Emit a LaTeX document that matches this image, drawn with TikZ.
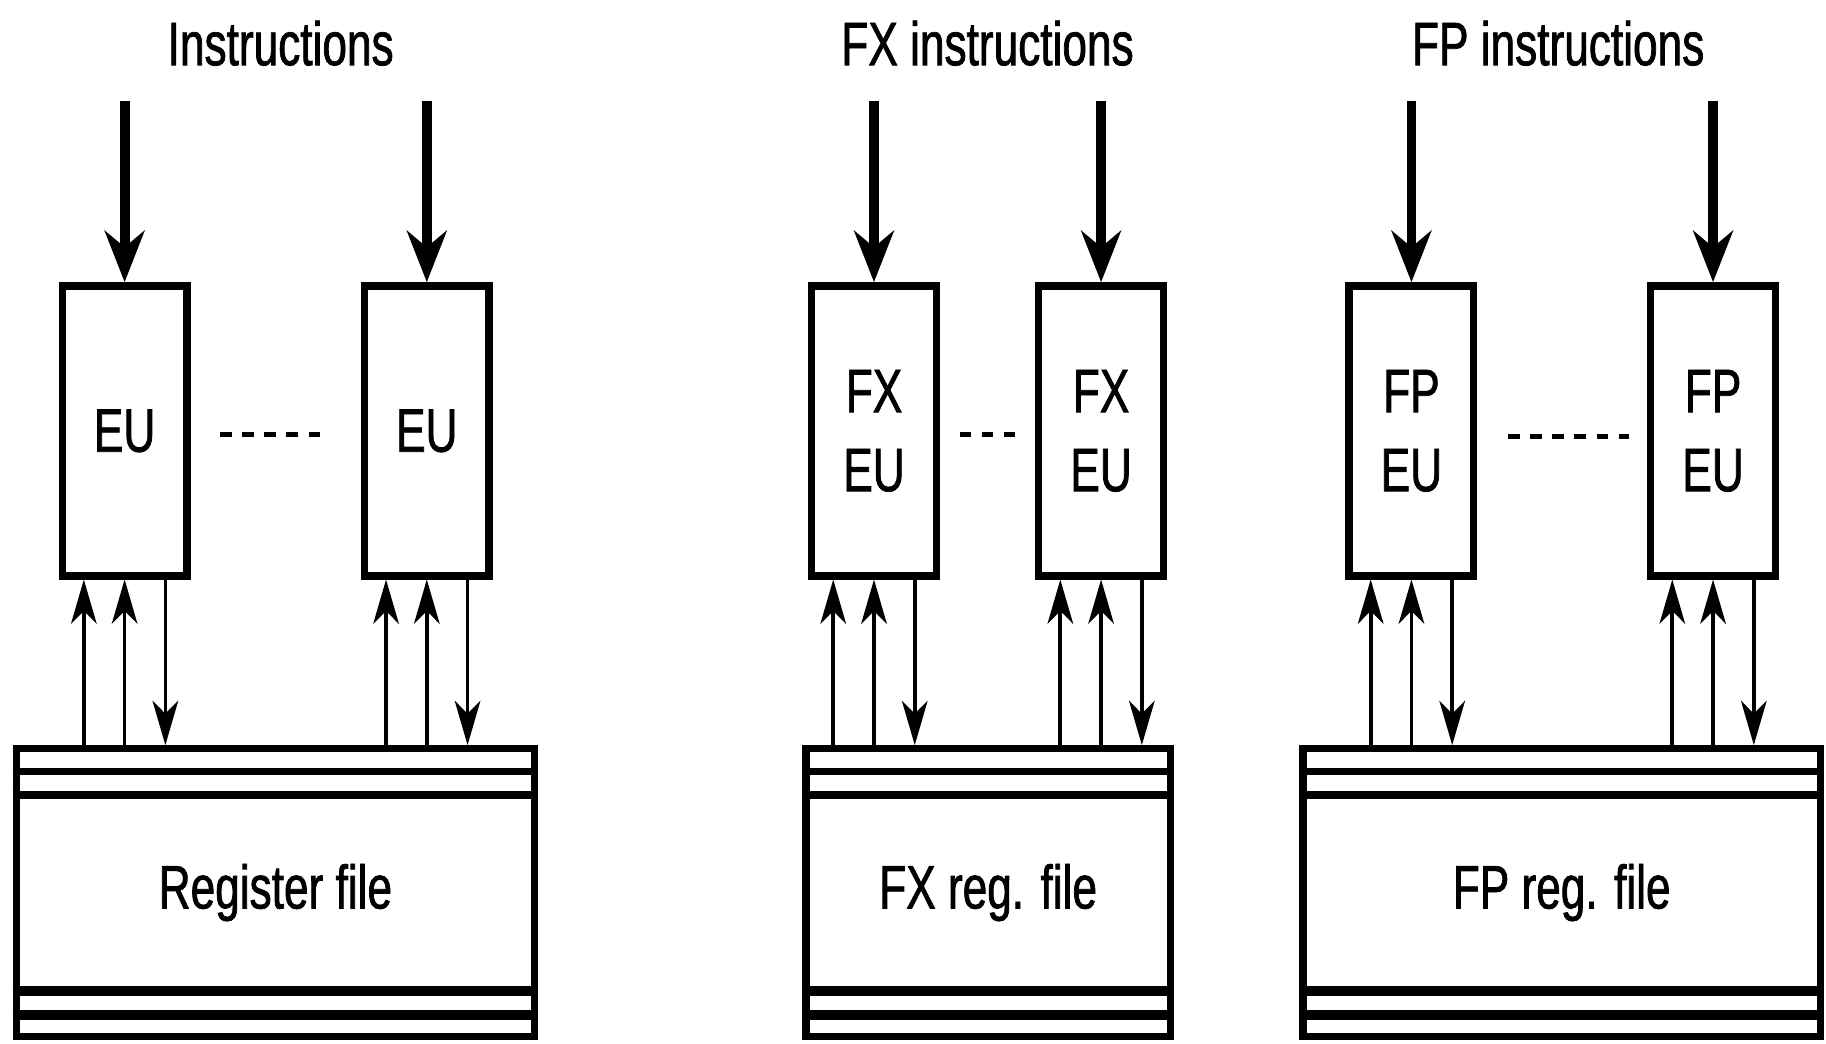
\documentclass[tikz,border=0pt]{standalone}
\usepackage{fontspec}
\setmainfont{Liberation Sans}[FakeStretch=0.72,FakeBold=1.2]
\usetikzlibrary{arrows.meta}

\begin{document}
\begin{tikzpicture}[
  eubox/.style={draw,line width=1.8pt,minimum width=1.07cm,minimum height=2.49cm,inner sep=0pt,align=center,font=\fontsize{15}{19.3}\selectfont},
  regbox/.style={draw,line width=1.8pt,minimum height=2.47cm,inner sep=0pt,font=\fontsize{15}{18}\selectfont},
  title/.style={anchor=base,font=\fontsize{15}{18}\selectfont},
  instr/.style={line width=2.4pt,-{Stealth[length=0.44cm,width=0.34cm,inset=0.14cm]}},
  rw/.style={line width=0.9pt,-{Stealth[length=0.38cm,width=0.22cm,inset=0.11cm]}},
  etc/.style={line width=1.2pt,dash pattern=on 0.1cm off 0.09cm}
]
  \useasboundingbox (0,0) rectangle (15.68,8.96);
  % titles
  \node[title] (t1) at (2.41,8.40) {Instructions};
  \node[title] (t2) at (8.48,8.40) {FX instructions};
  \node[title] (t3) at (13.38,8.40) {FP instructions};
  % execution units
  \node[eubox] (eu1) at (1.07,5.26) {EU};
  \node[eubox] (eu2) at (3.665,5.26) {EU};
  \node[eubox] (fx1) at (7.505,5.26) {FX\\EU};
  \node[eubox] (fx2) at (9.455,5.26) {FX\\EU};
  \node[eubox] (fp1) at (12.12,5.26) {FP\\EU};
  \node[eubox] (fp2) at (14.71,5.26) {FP\\EU};
  \draw[etc] (1.89,5.23) -- (2.77,5.23);
  \draw[etc] (8.24,5.23) -- (8.72,5.23);
  \draw[etc] (12.95,5.21) -- (13.99,5.21);
  % register files
  \node[regbox,minimum width=4.45cm] (rf1) at (2.365,1.295) {Register file};
  \node[regbox,minimum width=3.13cm] (rf2) at (8.485,1.295) {FX reg. file};
  \node[regbox,minimum width=4.44cm] (rf3) at (13.41,1.295) {FP reg. file};
  \foreach \r in {rf1,rf2,rf3} {
    \draw[line width=1.8pt] ([yshift=-0.225cm]\r.north west) -- ([yshift=-0.225cm]\r.north east);
    \draw[line width=1.8pt] ([yshift=-0.43cm]\r.north west) -- ([yshift=-0.43cm]\r.north east);
    \draw[line width=2.4pt] ([yshift=0.42cm]\r.south west) -- ([yshift=0.42cm]\r.south east);
    \draw[line width=2.4pt] ([yshift=0.215cm]\r.south west) -- ([yshift=0.215cm]\r.south east);
  }
  % instruction inputs
  \foreach \u in {eu1,eu2,fx1,fx2,fp1,fp2} {
    \path (\u.north) ++(0,1.56) coordinate (\u-in);
    \draw[instr] (\u-in) -- (\u.north);
  }
  % operands and results
  \foreach \u/\r in {eu1/rf1,eu2/rf1,fx1/rf2,fx2/rf2,fp1/rf3,fp2/rf3} {
    \path (\u.south) ++(-0.35,0) coordinate (\u-a);
    \path (\u.south) ++(0.35,0) coordinate (\u-c);
    \draw[rw] (\u-a |- \r.north) -- (\u-a);
    \draw[rw] (\u.south |- \r.north) -- (\u.south);
    \draw[rw] (\u-c) -- (\u-c |- \r.north);
  }
\end{tikzpicture}
\end{document}
